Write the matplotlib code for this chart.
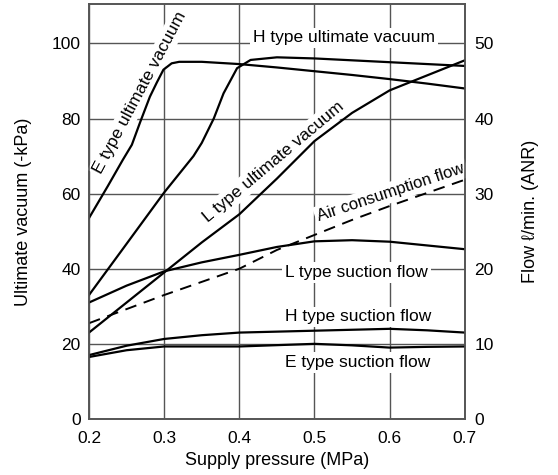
import numpy as np
import matplotlib.pyplot as plt

plt.rcParams['font.family'] = ['Liberation Sans', 'DejaVu Sans']

# supply pressure (MPa) and readings, left axis units (-kPa)
e_vac_x = [0.2, 0.225, 0.245, 0.257, 0.268, 0.281, 0.29, 0.299, 0.31, 0.32, 0.35, 0.4, 0.45, 0.5, 0.55, 0.6, 0.65, 0.7]
e_vac_y = [53.5, 62, 69, 73, 79, 85.8, 89.5, 93, 94.7, 95.1, 95.1, 94.5, 93.6, 92.6, 91.6, 90.5, 89.3, 88]

h_vac_x = [0.2, 0.244, 0.3, 0.339, 0.35, 0.366, 0.379, 0.397, 0.415, 0.45, 0.5, 0.6, 0.7]
h_vac_y = [33, 45, 60.3, 70, 73.5, 80, 86.7, 93.4, 95.6, 96.3, 96, 95, 94]

l_vac_x = [0.2, 0.25, 0.3, 0.35, 0.4, 0.45, 0.5, 0.55, 0.6, 0.65, 0.7]
l_vac_y = [23, 31, 39, 47, 54.5, 64, 74, 81.5, 87.5, 91.5, 95.5]

# flows, read on the left scale (right scale = half)
air_x = [0.2, 0.3, 0.4, 0.45, 0.5, 0.55, 0.6, 0.65, 0.7]
air_y = [25.5, 33, 40, 45, 49, 53, 56.7, 60.2, 63.7]

l_flow_x = [0.2, 0.25, 0.3, 0.35, 0.4, 0.45, 0.5, 0.55, 0.6, 0.65, 0.7]
l_flow_y = [31, 35.5, 39.3, 41.7, 43.7, 45.8, 47.3, 47.6, 47.2, 46.2, 45.2]

h_flow_x = [0.2, 0.25, 0.3, 0.35, 0.4, 0.5, 0.6, 0.65, 0.7]
h_flow_y = [17, 19.5, 21.3, 22.3, 23, 23.5, 24, 23.6, 23]

e_flow_x = [0.2, 0.25, 0.3, 0.4, 0.5, 0.55, 0.6, 0.65, 0.7]
e_flow_y = [16.5, 18.3, 19.3, 19.3, 20, 19.6, 19, 19.2, 19.3]

x_ticks = [0.2, 0.3, 0.4, 0.5, 0.6, 0.7]
left_ticks = [0, 20, 40, 60, 80, 100]
right_ticks = [0, 10, 20, 30, 40, 50]

fig = plt.figure(figsize=(5.58, 4.75), dpi=100)
ax = fig.add_axes([0.1595, 0.118, 0.6735, 0.8736])

grid_c = '#555555'
ax.set_axisbelow(True)
ax.grid(True, color=grid_c, linewidth=1.0)
for s in ax.spines.values():
    s.set_color(grid_c)
    s.set_linewidth(1.2)

kw = dict(color='black', linewidth=1.6, zorder=4)
ax.plot(e_vac_x, e_vac_y, **kw)
ax.plot(h_vac_x, h_vac_y, **kw)
ax.plot(l_vac_x, l_vac_y, **kw)
ax.plot(l_flow_x, l_flow_y, **kw)
ax.plot(h_flow_x, h_flow_y, **kw)
ax.plot(e_flow_x, e_flow_y, **kw)
ax.plot(air_x, air_y, color='black', linewidth=1.4, linestyle=(0, (6, 4)), zorder=4)

ax.set_xlim(0.2, 0.7)
ax.set_ylim(0, 110.5)
ax.set_xticks(x_ticks)
ax.set_xticklabels(['%.1f' % v for v in x_ticks])
ax.set_yticks(left_ticks)
ax.tick_params(length=0, labelsize=12.5, pad=6)
ax.tick_params(axis='x', pad=9)
ax.set_xlabel('Supply pressure (MPa)', fontsize=13, labelpad=4)
ax.set_ylabel('Ultimate vacuum (-kPa)', fontsize=13, labelpad=14)

ax2 = ax.twinx()
ax2.set_ylim(0, 110.5 / 2)
ax2.set_yticks(right_ticks)
ax2.tick_params(length=0, labelsize=12.5, pad=7)
for s in ax2.spines.values():
    s.set_color(grid_c)
    s.set_linewidth(1.2)
ax2.set_ylabel('Flow \u2113/min. (ANR)', fontsize=13, labelpad=20)

box = dict(facecolor='white', edgecolor='none', pad=2)
tkw = dict(fontsize=12.5, ha='center', va='center', zorder=3, bbox=box,
           rotation_mode='anchor')
ax.text(0.268, 87, 'E type ultimate vacuum', rotation=62, **tkw)
ax.text(0.539, 101.5, 'H type ultimate vacuum', **tkw)
ax.text(0.445, 68.4, 'L type ultimate vacuum', rotation=40, **tkw)
ax.text(0.602, 60.4, 'Air consumption flow', rotation=18.5, fontsize=12,
        ha='center', va='center', zorder=3, bbox=box, rotation_mode='anchor')
ax.text(0.556, 39, 'L type suction flow', **tkw)
ax.text(0.558, 27.2, 'H type suction flow', **tkw)
ax.text(0.558, 15, 'E type suction flow', **tkw)

fig.savefig('out.png', dpi=100)
